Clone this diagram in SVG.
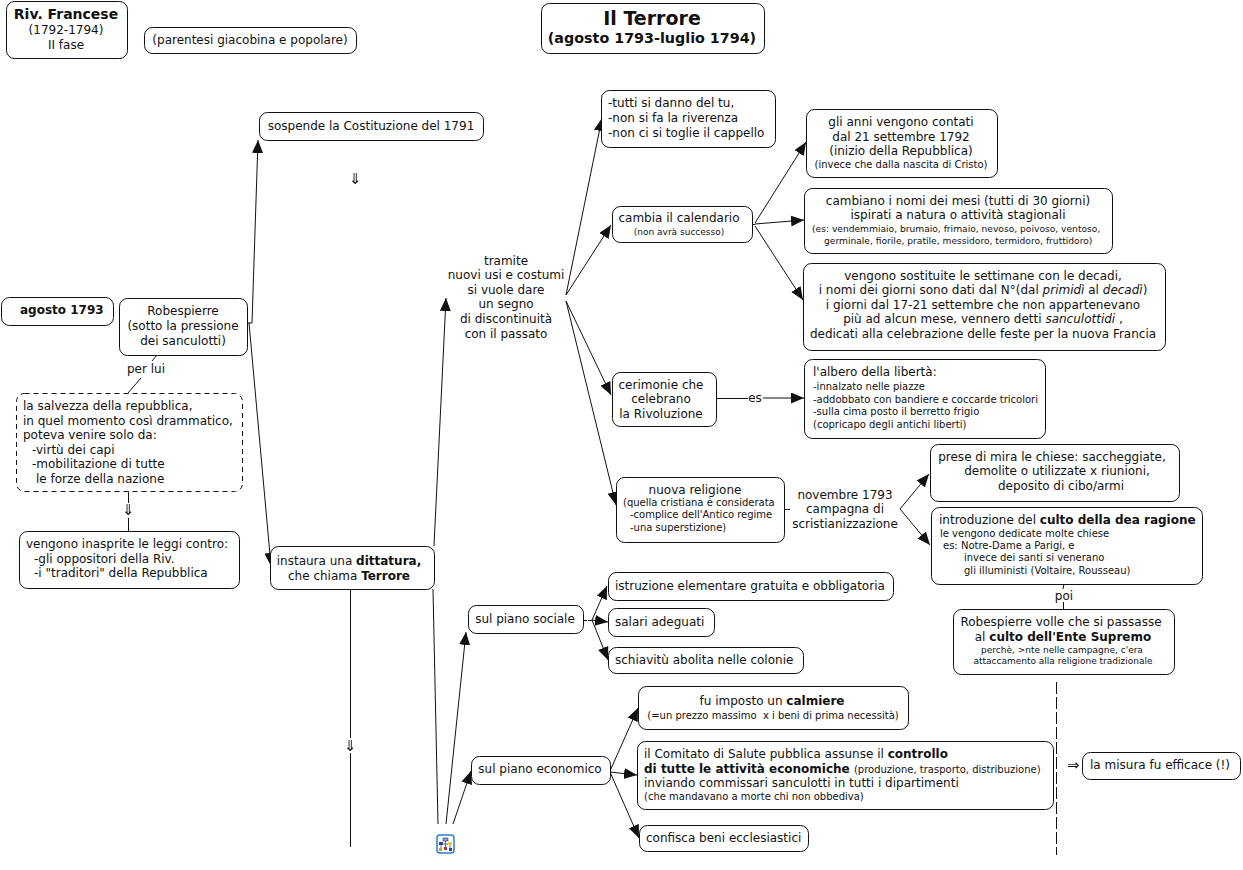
<svg xmlns="http://www.w3.org/2000/svg" width="1243" height="870" viewBox="0 0 1243 870">
<style>
text{font-family:"DejaVu Sans",Verdana,sans-serif;font-size:12px;fill:#111;white-space:pre}
.c{text-anchor:middle}
.s{font-size:10px}
.t{font-size:9px}
.m{font-size:9.15px}
.b{font-weight:bold}
.i{font-style:italic}
.ar{font-size:15px;filter:url(#g)}
.box rect{fill:#fff;stroke:#111;stroke-width:1;rx:8px;ry:8px;transform:translate(.5px,.5px)}
.d{stroke-dasharray:5 4}
.l{fill:none;stroke:#111;stroke-width:1}
.a{marker-end:url(#h)}
</style>
<defs><marker id="h" markerUnits="userSpaceOnUse" markerWidth="14" markerHeight="12" refX="13" refY="5.5" orient="auto"><path d="M0 0L13 5.5L0 11Z" fill="#111"/></marker><filter id="g" x="-20%" y="-20%" width="140%" height="140%"><feOffset dx="0" dy="0"/></filter></defs>
<rect width="1243" height="870" fill="#fff"/>
<g id="connectors">
<path class="l a" d="M252 323L258 140"/>
<path class="l a" d="M249 323L271 566"/>
<path class="l" d="M247 323L252 323"/>
<path class="l" d="M157 355L152 361M141 378L128 393"/>
<path class="l" d="M128.500 491V531"/>
<path class="l a" d="M434 546L446 298"/>
<path class="l" d="M350.500 589V847"/>
<path class="l" d="M433 589L438 824"/>
<path class="l a" d="M446 824L466 632"/>
<path class="l a" d="M453 824L471 771"/>
<path class="l a" d="M566 295L602 118"/>
<path class="l a" d="M566 295L611 225"/>
<path class="l a" d="M566 301L611 395"/>
<path class="l a" d="M566 301L616 505"/>
<path class="l a" d="M755 223L806 142"/>
<path class="l" d="M752 224.500H755"/>
<path class="l a" d="M755 224L804 220"/>
<path class="l a" d="M755 226L803 300"/>
<path class="l" d="M716 398.500H748"/>
<path class="l a" d="M763 398H804"/>
<path class="l" d="M784 509.500H790"/>
<path class="l a" d="M900 509L929 474"/>
<path class="l a" d="M900 509L930 545"/>
<path class="l" d="M1064 584L1063 589M1063.500 602V609"/>
<path class="l" d="M583 620.500H592" stroke-dasharray="4 1"/>
<path class="l a" d="M592 620L607 586"/>
<path class="l a" d="M592 620L608 622"/>
<path class="l a" d="M592 620L608 660"/>
<path class="l a" d="M610 771L638 708"/>
<path class="l a" d="M610 772L637 775"/>
<path class="l a" d="M610 772L639 838"/>
<path class="l" d="M1056.500 682V855" style="stroke-dasharray:12 3"/>
</g>
<g id="n1" class="box"><rect x="6" y="1" width="121" height="57"/><text class="c b" x="66" y="19" style="font-size:14px">Riv. Francese</text><text class="c" x="66" y="34">(1792-1794)</text><text class="c" x="66" y="49">II fase</text></g>
<g id="n2" class="box"><rect x="144" y="27" width="212" height="26"/><text class="c" x="250" y="44">(parentesi giacobina e popolare)</text></g>
<g id="n3" class="box"><rect x="541" y="3" width="223" height="50"/><text class="c b" x="652" y="25" style="font-size:19px">Il Terrore</text><text class="c b" x="652" y="43" style="font-size:14.300px">(agosto 1793-luglio 1794)</text></g>
<g id="n4" class="box"><rect x="259" y="112" width="224" height="28"/><text class="c" x="371" y="130">sospende la Costituzione del 1791</text></g>
<text class="c ar" x="355" y="184">⇓</text>
<g id="n5" class="box"><rect x="1" y="297" width="112" height="28"/><text class="b" x="20" y="314">agosto 1793</text></g>
<g id="n6" class="box"><rect x="119" y="298" width="128" height="57"/><text class="c" x="183" y="315">Robespierre</text><text class="c" x="183" y="330">(sotto la pressione</text><text class="c" x="183" y="345">dei sanculotti)</text></g>
<text class="c" x="146" y="373">per lui</text>
<g id="n7" class="box"><rect class="d" x="16" y="393" width="226" height="98"/><text x="23" y="410">la salvezza della repubblica,</text><text x="23" y="425">in quel momento così drammatico,</text><text x="23" y="439">poteva venire solo da:</text><text x="32" y="454">-virtù dei capi</text><text x="32" y="468">-mobilitazione di tutte</text><text x="36" y="483">le forze della nazione</text></g>
<rect x="122" y="503" width="12" height="15" fill="#fff"/><text class="c ar" x="128" y="515">⇓</text>
<g id="n8" class="box"><rect x="19" y="531" width="220" height="57"/><text x="26" y="548">vengono inasprite le leggi contro:</text><text x="34" y="563">-gli oppositori della Riv.</text><text x="34" y="577">-i "traditori" della Repubblica</text></g>
<g id="n9" class="box"><rect x="270" y="546" width="164" height="43"/><text class="c" x="349" y="565">instaura una <tspan class="b">dittatura,</tspan></text><text class="c" x="349" y="580">che chiama <tspan class="b">Terrore</tspan></text></g>
<rect x="344" y="738" width="12" height="15" fill="#fff"/><text class="c ar" x="350" y="751">⇓</text>
<g id="n10"><text class="c" x="506" y="265">tramite</text><text class="c" x="506" y="279">nuovi usi e costumi</text><text class="c" x="506" y="294">si vuole dare</text><text class="c" x="506" y="308">un segno</text><text class="c" x="506" y="323">di discontinuità</text><text class="c" x="506" y="338">con il passato</text></g>
<g id="n11" class="box"><rect x="601" y="90" width="174" height="57"/><text x="608" y="107">-tutti si danno del tu,</text><text x="608" y="122">-non si fa la riverenza</text><text x="608" y="137">-non ci si toglie il cappello</text></g>
<g id="n12" class="box"><rect x="612" y="206" width="140" height="36"/><text class="c" x="679" y="222">cambia il calendario</text><text class="c t" x="679" y="235">(non avrà successo)</text></g>
<g id="n13" class="box"><rect x="806" y="109" width="191" height="68"/><text class="c" x="901" y="126">gli anni vengono contati</text><text class="c" x="901" y="141">dal 21 settembre 1792</text><text class="c" x="901" y="155">(inizio della Repubblica)</text><text class="c s" x="901" y="168">(invece che dalla nascita di Cristo)</text></g>
<g id="n14" class="box"><rect x="804" y="188" width="308" height="65"/><text class="c" x="958" y="205">cambiano i nomi dei mesi (tutti di 30 giorni)</text><text class="c" x="958" y="219">ispirati a natura o attività stagionali</text><text class="m" x="812" y="232">(es: vendemmiaio, brumaio, frimaio, nevoso, poivoso, ventoso,</text><text class="m" x="824" y="244">germinale, fiorile, pratile, messidoro, termidoro, fruttidoro)</text></g>
<g id="n15" class="box"><rect x="803" y="263" width="362" height="87"/><text class="c" x="983" y="280">vengono sostituite le settimane con le decadi,</text><text class="c" x="983" y="294">i nomi dei giorni sono dati dal N°(dal <tspan class="i">primidì</tspan> al <tspan class="i">decadì</tspan>)</text><text class="c" x="983" y="309">i giorni dal 17-21 settembre che non appartenevano</text><text class="c" x="983" y="323">più ad alcun mese, vennero detti <tspan class="i">sanculottidi</tspan> ,</text><text class="c" x="983" y="338">dedicati alla celebrazione delle feste per la nuova Francia</text></g>
<g id="n16" class="box"><rect x="612" y="372" width="104" height="54"/><text class="c" x="661" y="389">cerimonie che</text><text class="c" x="661" y="403">celebrano</text><text class="c" x="661" y="418">la Rivoluzione</text></g>
<text class="c" x="755" y="402">es</text>
<g id="n17" class="box"><rect x="804" y="359" width="241" height="79"/><text x="813" y="376">l'albero della libertà:</text><text class="s" x="813" y="390">-innalzato nelle piazze</text><text class="s" x="813" y="403">-addobbato con bandiere e coccarde tricolori</text><text class="s" x="813" y="415">-sulla cima posto il berretto frigio</text><text class="s" x="813" y="428">(copricapo degli antichi liberti)</text></g>
<g id="n18" class="box"><rect x="616" y="477" width="168" height="65"/><text class="c" x="695" y="494">nuova religione</text><text class="s" x="623" y="506">(quella cristiana è considerata</text><text class="s" x="630" y="518">-complice dell'Antico regime</text><text class="s" x="630" y="531">-una superstizione)</text></g>
<g id="n19"><text class="c" x="845" y="499">novembre 1793</text><text class="c" x="845" y="513">campagna di</text><text class="c" x="845" y="528">scristianizzazione</text></g>
<g id="n20" class="box"><rect x="930" y="444" width="249" height="57"/><text class="c" x="1052" y="461">prese di mira le chiese: saccheggiate,</text><text class="c" x="1057" y="475">demolite o utilizzate x riunioni,</text><text class="c" x="1061" y="490">deposito di cibo/armi</text></g>
<g id="n21" class="box"><rect x="931" y="507" width="271" height="77"/><text x="939" y="524">introduzione del <tspan class="b">culto della dea ragione</tspan></text><text class="s" x="940" y="537">le vengono dedicate molte chiese</text><text class="s" x="943" y="549">es: Notre-Dame a Parigi, e</text><text class="s" x="964" y="561">invece dei santi si venerano</text><text class="s" x="964" y="574">gli illuministi (Voltaire, Rousseau)</text></g>
<text class="c" x="1064" y="600">poi</text>
<g id="n22" class="box"><rect x="953" y="609" width="221" height="65"/><text class="c" x="1061" y="626">Robespierre volle che si passasse</text><text class="c" x="1063" y="641">al <tspan class="b">culto dell'Ente Supremo</tspan></text><text class="c t" x="1062" y="653">perchè, &gt;nte nelle campagne, c'era</text><text class="c t" x="1063" y="664">attaccamento alla religione tradizionale</text></g>
<g id="n23" class="box"><rect x="468" y="605" width="115" height="28"/><text class="c" x="525" y="623">sul piano sociale</text></g>
<g id="n24" class="box"><rect x="608" y="572" width="285" height="28"/><text x="615" y="590">istruzione elementare gratuita e obbligatoria</text></g>
<g id="n25" class="box"><rect x="608" y="608" width="106" height="28"/><text x="615" y="626">salari adeguati</text></g>
<g id="n26" class="box"><rect x="608" y="647" width="195" height="26"/><text x="615" y="664">schiavitù abolita nelle colonie</text></g>
<g id="n27" class="box"><rect x="471" y="756" width="139" height="28"/><text class="c" x="540" y="773">sul piano economico</text></g>
<g id="n28" class="box"><rect x="638" y="686" width="270" height="43"/><text class="c" x="772" y="705">fu imposto un <tspan class="b">calmiere</tspan></text><text class="c s" x="773" y="719">(=un prezzo massimo  x i beni di prima necessità)</text></g>
<g id="n29" class="box"><rect x="637" y="741" width="416" height="68"/><text x="644" y="758">il Comitato di Salute pubblica assunse il <tspan class="b">controllo</tspan></text><text class="b" x="644" y="773">di tutte le attività economiche <tspan class="s" style="font-weight:normal">(produzione, trasporto, distribuzione)</tspan></text><text x="644" y="787">inviando commissari sanculotti in tutti i dipartimenti</text><text class="s" x="644" y="800">(che mandavano a morte chi non obbediva)</text></g>
<g id="n30" class="box"><rect x="639" y="825" width="169" height="26"/><text x="646" y="842">confisca beni ecclesiastici</text></g>
<text class="ar" x="1067" y="770">⇒</text>
<g id="n31" class="box"><rect x="1082" y="752" width="158" height="27"/><text x="1090" y="769">la misura fu efficace (!)</text></g>
<g id="icon"><rect x="437" y="835" width="17" height="18" rx="3" fill="#fff" stroke="#2a7fd0" stroke-width="1.500"/><path d="M445.500 841V849M441 844H450V849M441 844V849" fill="none" stroke="#333" stroke-width=".7"/><rect x="443" y="838" width="5" height="3" fill="#7aa0e0" stroke="#223" stroke-width=".5"/><rect x="439" y="842" width="4" height="3" fill="#2244aa"/><rect x="448" y="842" width="4" height="3" fill="#e8c840"/><rect x="439" y="848" width="3" height="3" fill="#c8a030"/><rect x="444" y="847" width="3" height="3" fill="#a04030"/><rect x="449" y="848" width="3" height="3" fill="#2244aa"/></g>
</svg>
